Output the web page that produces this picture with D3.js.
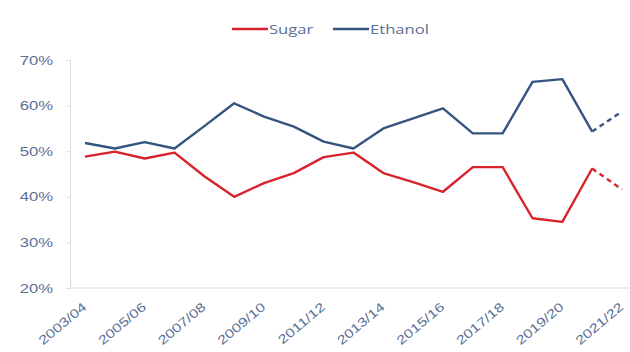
<!DOCTYPE html>
<html>
<head>
<meta charset="utf-8">
<script src="https://cdn.jsdelivr.net/npm/d3@7"></script>
<style>
  html, body { margin: 0; padding: 0; background: #fff; }
  svg { display: block; font-family: "Open Sans", "DejaVu Sans", sans-serif; }
</style>
</head>
<body>
<svg id="chart" width="630" height="352"></svg>
<script>
// Crop seasons, one point per season
const seasons = ["2003/04","2004/05","2005/06","2006/07","2007/08","2008/09","2009/10",
  "2010/11","2011/12","2012/13","2013/14","2014/15","2015/16","2016/17","2017/18",
  "2018/19","2019/20","2020/21","2021/22"];
// Share of cane crush going to sugar and to ethanol (%)
const sugarShare   = [48.8, 49.9, 48.4, 49.7, 44.5, 40.0, 43.0, 45.2, 48.7, 49.7,
  45.2, 43.2, 41.1, 46.5, 46.5, 35.3, 34.5, 46.2, 41.6];
const ethanolShare = [51.8, 50.6, 52.0, 50.6, 55.5, 60.5, 57.6, 55.4, 52.1, 50.6,
  55.0, 57.2, 59.4, 53.9, 53.9, 65.2, 65.8, 54.3, 58.7];
// Axis tick labels
const yTicks = [20, 30, 40, 50, 60, 70];
const xTickLabels = ["2003/04","2005/06","2007/08","2009/10","2011/12","2013/14",
  "2015/16","2017/18","2019/20","2021/22"];
// The last season is an estimate and is drawn dashed
const estimateFrom = "2020/21";

const seriesList = [
  { name: "Sugar",   values: sugarShare,   color: "#d8232c" },
  { name: "Ethanol", values: ethanolShare, color: "#34557f" }
];

const svg = d3.select("#chart");
const textColor = "#5b6f95";
const stretch = "scale(1.28,1)"; // wide lettering used throughout the chart

const x = d3.scalePoint().domain(seasons).range([85, 622]);
const y = d3.scaleLinear().domain([20, 70]).range([288, 60]);

// Y axis
const yAxis = svg.append("g").attr("transform", "translate(70,0)")
  .call(d3.axisLeft(y).tickValues(yTicks).tickFormat(d => d + "%").tickSize(4));
yAxis.select(".domain").attr("stroke", "#d9d9d9");
yAxis.selectAll(".tick line").attr("stroke", "#e3e3e3");
yAxis.selectAll("text")
  .attr("fill", textColor).attr("font-size", 13)
  .attr("x", 0)
  .attr("transform", `translate(-17,0) ${stretch}`);

// X axis
const xAxis = svg.append("g").attr("transform", "translate(0,288)")
  .call(d3.axisBottom(x).tickValues(xTickLabels).tickSize(0).tickPadding(0));
xAxis.select(".domain").attr("stroke", "#d9d9d9").attr("d", "M70,0H630");
xAxis.selectAll("text")
  .attr("fill", textColor).attr("font-size", 12.5)
  .attr("text-anchor", "end")
  .attr("y", 0)
  .attr("dy", "0.35em")
  .attr("transform", `translate(-1,17) rotate(-40) ${stretch}`);

// Lines: solid up to the estimate start, dashed for the final segment
const cut = seasons.indexOf(estimateFrom);
const line = d3.line().x(d => x(d.s)).y(d => y(d.v));

seriesList.forEach(sr => {
  const pts = seasons.map((s, i) => ({ s, v: sr.values[i] }));
  svg.append("path").datum(pts.slice(0, cut + 1))
    .attr("fill", "none").attr("stroke", sr.color).attr("stroke-width", 2.4)
    .attr("stroke-linejoin", "round").attr("d", line);
  svg.append("path").datum(pts.slice(cut))
    .attr("fill", "none").attr("stroke", sr.color).attr("stroke-width", 2.4)
    .attr("stroke-dasharray", "5,4").attr("d", line);
});

// Legend
const legend = svg.append("g");
const legendItems = [
  { name: "Sugar", color: "#d8232c", x0: 232 },
  { name: "Ethanol", color: "#34557f", x0: 333 }
];
legendItems.forEach(it => {
  legend.append("line").attr("x1", it.x0).attr("x2", it.x0 + 36)
    .attr("y1", 29).attr("y2", 29).attr("stroke", it.color).attr("stroke-width", 2.4);
  legend.append("text")
    .attr("transform", `translate(${it.x0 + 37},29) ${stretch}`)
    .attr("dy", "0.35em")
    .attr("fill", textColor).attr("font-size", 13).text(it.name);
});
</script>
</body>
</html>
